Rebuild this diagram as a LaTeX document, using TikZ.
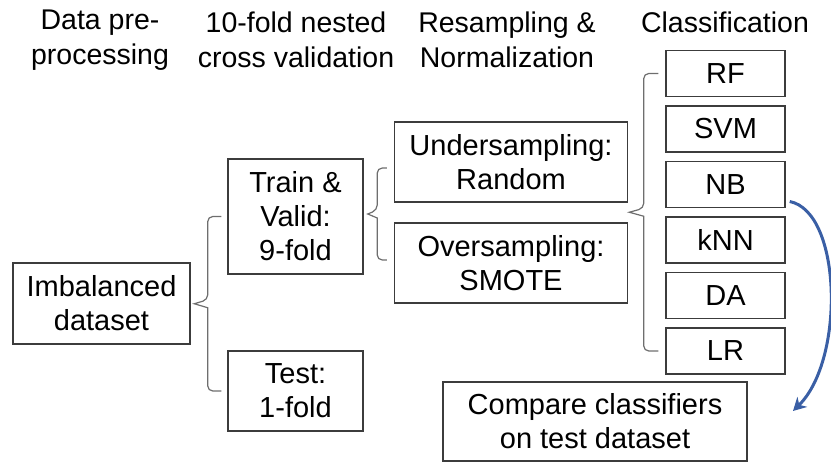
\documentclass[tikz,border=0pt]{standalone}
\usepackage{fontspec}
\setmainfont{Liberation Sans}
\usetikzlibrary{positioning,arrows.meta,calc}
\definecolor{boxgray}{RGB}{60,60,60}
\definecolor{bracegray}{RGB}{110,110,110}
\definecolor{arrowblue}{RGB}{58,95,165}
\tikzset{
  box/.style={draw=boxgray, line width=1.5pt, align=center, inner sep=0pt,
    font=\fontsize{29}{34}\selectfont},
  clf/.style={box, minimum width=119pt, minimum height=46pt},
  head/.style={align=center, inner sep=0pt, font=\fontsize{28.5}{35}\selectfont},
  brace/.style={draw=bracegray, line width=1.2pt, rounded corners=5pt},
  flow/.style={draw=arrowblue, line width=3pt, -{Stealth[length=13pt,width=14pt]}}
}
\newcommand{\sidebrace}[3]{%
  \draw[brace] let \p1=(#1), \p2=(#2), \n1={(\y1+\y2)/2} in
    (\p1) -- (\x1-#3/2,\y1) -- (\x1-#3/2,\n1+4pt) [sharp corners]
    -- (\x1-#3,\n1) -- (\x1-#3/2,\n1-4pt) [rounded corners=5pt]
    -- (\x1-#3/2,\y2) -- (\p2);}

\begin{document}
\begin{tikzpicture}[x=1pt, y=-1pt]
\useasboundingbox (0,0) rectangle (831,462);

\node[head] at (100,40) (h1) {Data pre-\\processing};
\node[head] at (296,40) (h2) {10-fold nested\\cross validation};
\node[head] at (507,40) (h3) {Resampling \&\\Normalization};
\node[head, anchor=base] at (725,33) (h4) {Classification};

\node[box, minimum width=177pt, minimum height=81pt] at (101.5,303.5) (data) {Imbalanced\\dataset};
\node[box, minimum width=135pt, minimum height=115pt] at (295.5,216.5) (train) {Train \&\\Valid:\\9-fold};
\node[box, minimum width=135pt, minimum height=80pt] at (295.5,391) (test) {Test:\\1-fold};
\node[box, minimum width=233pt, minimum height=80pt] at (511,162) (under) {Undersampling:\\Random};
\node[box, minimum width=233pt, minimum height=80pt] at (511,263) (over) {Oversampling:\\SMOTE};

\node[clf] at (725.5,73.5) (rf) {RF};
\node[clf, below=8pt of rf] (svm) {SVM};
\node[clf, below=8pt of svm] (nb) {NB};
\node[clf, below=8pt of nb] (knn) {kNN};
\node[clf, below=8pt of knn] (da) {DA};
\node[clf, below=8pt of da] (lr) {LR};

\node[box, minimum width=304pt, minimum height=79pt] at (595,421.5) (compare) {Compare classifiers\\on test dataset};

\sidebrace{[xshift=-6pt]train.west}{[xshift=-6pt]test.west}{27pt}
\sidebrace{[xshift=-7pt,yshift=-6pt]under.west}{[xshift=-7pt,yshift=3pt]over.west}{19pt}
\sidebrace{[xshift=-7pt]rf.west}{[xshift=-7pt]lr.west}{29pt}

\coordinate (cmpend) at (793,411);
\draw[flow] ([shift={(4,17)}]nb.east) .. controls (842,212) and (845,360) .. (cmpend);
\end{tikzpicture}
\end{document}
